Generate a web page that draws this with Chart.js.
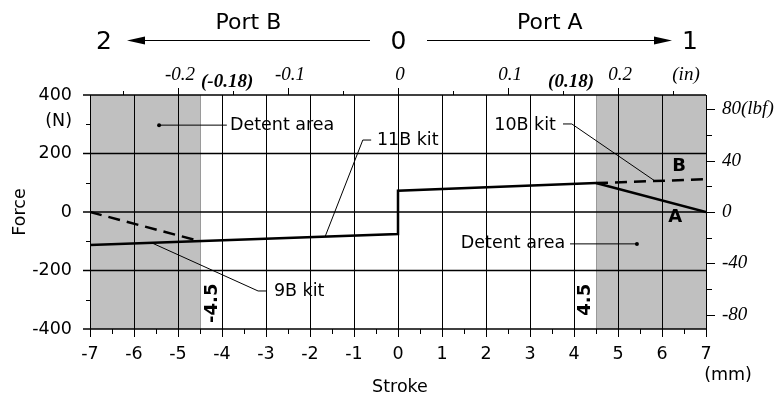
<!DOCTYPE html>
<html>
<head>
<meta charset="utf-8">
<script src="https://cdn.jsdelivr.net/npm/chart.js@4/dist/chart.umd.min.js"></script>
<style>
  body { margin: 0; background: #fff; }
</style>
</head>
<body>
<canvas id="myChart" width="784" height="397"></canvas>
<script>
// axis ticks
const strokeTicks = [-7, -6, -5, -4, -3, -2, -1, 0, 1, 2, 3, 4, 5, 6, 7];
const strokeMinorTicks = [-6.5, -5.5, -4.5, -3.5, -2.5, -1.5, -0.5, 0.5, 1.5, 2.5, 3.5, 4.5, 5.5, 6.5];
const forceTicks = [400, 200, 0, -200, -400];
const forceMinorTicks = [300, 100, -100, -300];
const lbfTicks = [80, 40, 0, -40, -80];
const lbfMinorTicks = [60, 20, -20, -60];
const lbfLabels = ['80(lbf)', '40', '0', '-40', '-80'];
const inchTicks = [-0.2, -0.1, 0, 0.1, 0.2];
const inchMinorTicks = [-0.25, -0.15, -0.05, 0.05, 0.15, 0.25];
const inchLabels = ['-0.2', '-0.1', '0', '0.1', '0.2'];
const detentRanges = [[-7, -4.5], [4.5, 7]];

// force curves, stroke in mm, force in N
const kit11B_x = [-7, 0, 0, 4.5];
const kit11B_y = [-113, -75, 73, 99];
const kitA_x = [4.5, 7];
const kitA_y = [99, 0];
const kit10B_x = [4.5, 7];
const kit10B_y = [99, 112];
const kit9B_x = [-7, -4.5];
const kit9B_y = [0, -100];

const MM_PER_IN = 25;
const N_PER_LBF = 4.4;

const SANS = '"DejaVu Sans", Verdana, sans-serif';
const SERIF = '"Liberation Serif", "Times New Roman", serif';

function pts(xs, ys) {
  return xs.map((x, i) => ({ x: x, y: ys[i] }));
}

function seg(ctx, x1, y1, x2, y2) {
  ctx.beginPath();
  ctx.moveTo(x1, y1);
  ctx.lineTo(x2, y2);
  ctx.stroke();
}

function text(ctx, s, px, py, font, align, base) {
  ctx.font = font;
  ctx.textAlign = align || 'center';
  ctx.textBaseline = base || 'alphabetic';
  ctx.fillText(s, px, py);
}

const decor = {
  id: 'decor',
  beforeDatasetsDraw(chart) {
    const ctx = chart.ctx;
    const a = chart.chartArea;
    const x = chart.scales.x;
    const y = chart.scales.y;
    const crisp = v => Math.round(v) + 0.5;
    ctx.save();

    // detent areas
    ctx.fillStyle = '#c0c0c0';
    detentRanges.forEach(([l, r]) => {
      const x1 = x.getPixelForValue(l), x2 = x.getPixelForValue(r);
      ctx.fillRect(x1, a.top, x2 - x1, a.bottom - a.top);
    });
    ctx.strokeStyle = '#9a9a9a';
    ctx.lineWidth = 1;
    [-4.5, 4.5].forEach(v => {
      const px = crisp(x.getPixelForValue(v));
      seg(ctx, px, a.top, px, a.bottom);
    });

    ctx.strokeStyle = '#000';
    // vertical grid + bottom ticks
    ctx.lineWidth = 1;
    strokeTicks.forEach(v => {
      const px = crisp(x.getPixelForValue(v));
      seg(ctx, px, a.top, px, a.bottom + 8);
    });
    strokeMinorTicks.forEach(v => {
      const px = crisp(x.getPixelForValue(v));
      seg(ctx, px, a.bottom, px, a.bottom + 5);
    });
    // top inch ticks
    inchTicks.forEach(v => {
      const px = crisp(x.getPixelForValue(v * MM_PER_IN));
      seg(ctx, px, a.top - 7, px, a.top);
    });
    inchMinorTicks.forEach(v => {
      const px = crisp(x.getPixelForValue(v * MM_PER_IN));
      seg(ctx, px, a.top - 4, px, a.top);
    });
    // horizontal grid
    ctx.lineWidth = 1.5;
    forceTicks.forEach(v => {
      const py = y.getPixelForValue(v);
      seg(ctx, a.left - 7, py, a.right, py);
    });
    ctx.lineWidth = 1;
    forceMinorTicks.forEach(v => {
      const py = crisp(y.getPixelForValue(v));
      seg(ctx, a.left - 4, py, a.left, py);
    });
    // right lbf ticks
    lbfTicks.forEach(v => {
      const py = crisp(y.getPixelForValue(v * N_PER_LBF));
      seg(ctx, a.right, py, a.right + 9, py);
    });
    lbfMinorTicks.forEach(v => {
      const py = crisp(y.getPixelForValue(v * N_PER_LBF));
      seg(ctx, a.right, py, a.right + 6, py);
    });

    // labels
    ctx.fillStyle = '#000';
    const f = '17.5px ' + SANS;
    forceTicks.forEach(v => text(ctx, String(v), a.left - 18, y.getPixelForValue(v), f, 'right', 'middle'));
    text(ctx, '(N)', a.left - 18, y.getPixelForValue(400) + 26, f, 'right', 'middle');
    strokeTicks.forEach(v => text(ctx, String(v), x.getPixelForValue(v), a.bottom + 30, f));
    text(ctx, '(mm)', x.getPixelForValue(7) + 22, a.bottom + 51, f);
    text(ctx, 'Stroke', (a.left + a.right) / 2 + 2, a.bottom + 63, f);
    ctx.save();
    ctx.translate(20, (a.top + a.bottom) / 2);
    ctx.rotate(-Math.PI / 2);
    text(ctx, 'Force', 0, 0, f, 'center', 'middle');
    ctx.restore();

    const fi = 'italic 19px ' + SERIF;
    lbfTicks.forEach((v, i) => text(ctx, lbfLabels[i], a.right + 16, y.getPixelForValue(v * N_PER_LBF), fi, 'left', 'middle'));
    inchTicks.forEach((v, i) => text(ctx, inchLabels[i], x.getPixelForValue(v * MM_PER_IN) + 2, a.top - 15, fi));
    text(ctx, '(in)', x.getPixelForValue(6.5) + 2, a.top - 15, fi);
    const fbi = 'italic bold 19px ' + SERIF;
    text(ctx, '(-0.18)', x.getPixelForValue(-4.5) + 1, a.top - 8, fbi, 'left');
    text(ctx, '(0.18)', x.getPixelForValue(4.5) - 2, a.top - 8, fbi, 'right');

    // port header
    text(ctx, 'Port B', x.getPixelForValue(-3.4), 29, '22px ' + SANS);
    text(ctx, 'Port A', x.getPixelForValue(3.45), 29, '22px ' + SANS);
    const fh = '25px ' + SANS;
    text(ctx, '2', x.getPixelForValue(-7) + 14, 49, fh);
    text(ctx, '0', x.getPixelForValue(0) + 0.5, 49, fh);
    text(ctx, '1', x.getPixelForValue(7) - 16, 49, fh);
    ctx.lineWidth = 1.2;
    const ay = 40.5;
    seg(ctx, 370, ay, 140, ay);
    seg(ctx, 427, ay, 660, ay);
    ctx.beginPath();
    ctx.moveTo(127, ay); ctx.lineTo(145, ay - 4); ctx.lineTo(145, ay + 4); ctx.closePath();
    ctx.fill();
    ctx.beginPath();
    ctx.moveTo(672, ay); ctx.lineTo(654, ay - 4); ctx.lineTo(654, ay + 4); ctx.closePath();
    ctx.fill();
    ctx.restore();
  },
  afterDatasetsDraw(chart) {
    const ctx = chart.ctx;
    const x = chart.scales.x;
    const y = chart.scales.y;
    const P = (mx, n) => [x.getPixelForValue(mx), y.getPixelForValue(n)];
    const f = '17.5px ' + SANS;
    ctx.save();
    ctx.strokeStyle = '#000';
    ctx.fillStyle = '#000';
    ctx.lineWidth = 1;

    const leader = (list) => {
      ctx.beginPath();
      list.forEach((p, i) => {
        const q = P(p[0], p[1]);
        if (i === 0) ctx.moveTo(q[0], q[1]); else ctx.lineTo(q[0], q[1]);
      });
      ctx.stroke();
    };
    const dot = (mx, n) => {
      const q = P(mx, n);
      ctx.beginPath();
      ctx.arc(q[0], q[1], 2, 0, Math.PI * 2);
      ctx.fill();
    };

    // Detent area (left)
    leader([[-5.43, 297], [-3.89, 297]]);
    dot(-5.43, 297);
    let q = P(-3.82, 297);
    text(ctx, 'Detent area', q[0], q[1], f, 'left', 'middle');
    // Detent area (right)
    leader([[3.91, -109], [5.43, -109]]);
    dot(5.43, -109);
    q = P(3.8, -109);
    text(ctx, 'Detent area', q[0], q[1], f, 'right', 'middle');
    // 11B kit
    leader([[-1.66, -85.5], [-0.8, 246], [-0.61, 246]]);
    q = P(-0.48, 246);
    text(ctx, '11B kit', q[0], q[1], f, 'left', 'middle');
    // 10B kit
    leader([[3.75, 301], [3.95, 301], [5.84, 106]]);
    q = P(3.59, 297);
    text(ctx, '10B kit', q[0], q[1], f, 'right', 'middle');
    // 9B kit
    leader([[-5.59, -106], [-3.18, -270], [-2.98, -270]]);
    q = P(-2.82, -270);
    text(ctx, '9B kit', q[0], q[1], f, 'left', 'middle');

    const fb = 'bold 18px ' + SANS;
    q = P(6.39, 157);
    text(ctx, 'B', q[0], q[1], fb, 'center', 'middle');
    q = P(6.3, -17);
    text(ctx, 'A', q[0], q[1], fb, 'center', 'middle');

    [[-4.5, -4.23, -312], [4.5, 4.25, -300]].forEach(([v, mx, n]) => {
      const r = P(mx, n);
      ctx.save();
      ctx.translate(r[0], r[1]);
      ctx.rotate(-Math.PI / 2);
      text(ctx, String(v), 0, 0, fb, 'center', 'middle');
      ctx.restore();
    });
    ctx.restore();
  }
};

const lineStyle = { borderColor: '#000', borderWidth: 2.5, pointRadius: 0, tension: 0, fill: false };

new Chart(document.getElementById('myChart').getContext('2d'), {
  type: 'line',
  data: {
    datasets: [
      Object.assign({ label: '11B kit', data: pts(kit11B_x, kit11B_y) }, lineStyle),
      Object.assign({ label: 'A', data: pts(kitA_x, kitA_y) }, lineStyle),
      Object.assign({ label: '10B kit', data: pts(kit10B_x, kit10B_y), borderDash: [12, 7] }, lineStyle),
      Object.assign({ label: '9B kit', data: pts(kit9B_x, kit9B_y), borderDash: [12, 7] }, lineStyle)
    ]
  },
  options: {
    responsive: false,
    animation: false,
    layout: { padding: { left: 90, right: 78, top: 95, bottom: 68 } },
    plugins: { legend: { display: false }, tooltip: { enabled: false } },
    scales: {
      x: { type: 'linear', min: -7, max: 7, display: false },
      y: { type: 'linear', min: -400, max: 400, display: false }
    }
  },
  plugins: [decor]
});
</script>
</body>
</html>
